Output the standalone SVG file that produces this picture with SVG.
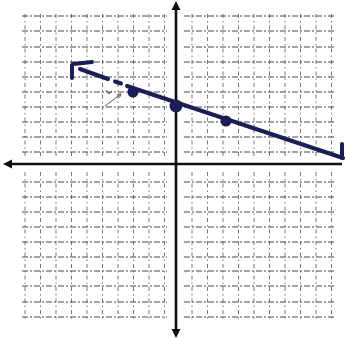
<svg xmlns="http://www.w3.org/2000/svg" width="346" height="339" viewBox="0 0 346 339">
<style>
.g{stroke:#333;stroke-width:1.2;stroke-dasharray:6 2 2 2;fill:none;opacity:.9}
.gv{stroke:#555;stroke-width:1;stroke-dasharray:4 3 1.5 3;fill:none;opacity:.8}
.ax{stroke:#111;stroke-width:2.6;fill:none}
.bl{stroke:#1c1d55;stroke-width:4;fill:none;stroke-linecap:round}
.dot{fill:#1c1d55}
</style>
<rect width="346" height="339" fill="#fff"/>
<g id="grid">
<path class="g" d="M22 16H167M22 31H167M22 47H167M22 62H167M22 77H167M22 92H167M22 107H167M22 122H167M22 137H167M22 152H167
M184 16H335M184 31H335M184 47H335M184 62H335M184 77H335M184 92H335M184 107H335M184 122H335M184 137H335M184 152H335
M22 182H167M22 197H167M22 212H167M22 227H167M22 242H167M22 257H167M22 271H167M22 286H167M22 302H167M22 317H167
M184 182H335M184 197H335M184 212H335M184 227H335M184 242H335M184 257H335M184 271H335M184 286H335M184 302H335M184 317H335"/>
<path class="gv" d="M25 14V157M40.5 14V157M56 14V157M71.5 14V157M87 14V157M102.5 14V157M118 14V157M133.5 14V157M149 14V157M164.5 14V157
M192 14V157M207.5 14V157M223 14V157M238.5 14V157M254 14V157M269.5 14V157M285 14V157M300.5 14V157M316 14V157M331.5 14V157
M25 172V319M40.5 172V319M56 172V319M71.5 172V319M87 172V319M102.5 172V319M118 172V319M133.5 172V319M149 172V319M164.5 172V319
M192 172V319M207.5 172V319M223 172V319M238.5 172V319M254 172V319M269.5 172V319M285 172V319M300.5 172V319M316 172V319M331.5 172V319"/>
</g>
<g id="axes">
<path class="ax" d="M8 164H342M176 6V333"/>
<path d="M3 164L12 159.5L12 168.5Z M176 1L171.5 10L180.5 10Z M176 338L171.5 329L180.5 329Z" fill="#111"/>
</g>
<g id="line">
<path class="bl" d="M80 69L108 79M115 81.5L121 83.5M127 86L343 158"/>
<path class="bl" d="M72 78V65M73 64L92 62"/>
<path class="bl" d="M342 158V144" />
<circle class="dot" cx="133" cy="92" r="5.5"/>
<circle class="dot" cx="176" cy="106" r="6.5"/>
<circle class="dot" cx="226" cy="121" r="5.5"/>
</g>
<g id="note">
<path d="M105 106L121 94M117 94.5L121 94L119.5 97.5" stroke="#555" stroke-width="1" fill="none"/>
<path d="M106 90L109 94L112 91" stroke="#555" stroke-width="1" fill="none"/>
</g>
</svg>
